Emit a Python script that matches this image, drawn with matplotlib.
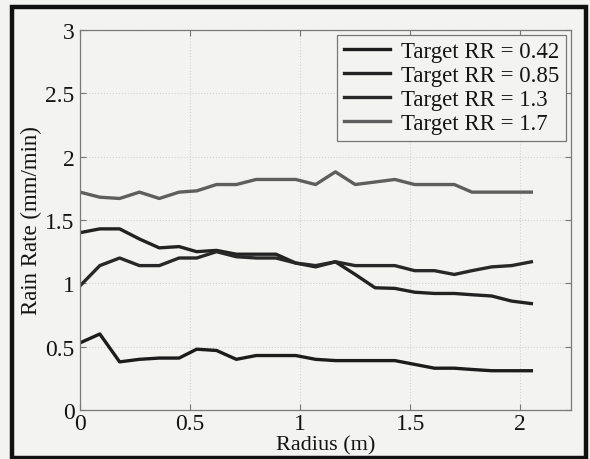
import matplotlib
matplotlib.use("Agg")
import matplotlib.pyplot as plt
from matplotlib.patches import Rectangle

# radius samples (m)
radius = [0.00, 0.09, 0.18, 0.27, 0.36, 0.45, 0.53, 0.62, 0.71, 0.80, 0.89, 0.98,
          1.07, 1.16, 1.25, 1.34, 1.43, 1.52, 1.61, 1.70, 1.78, 1.87, 1.96, 2.05]

rr_042 = [0.53, 0.60, 0.38, 0.40, 0.41, 0.41, 0.48, 0.47, 0.40, 0.43, 0.43, 0.43,
          0.40, 0.39, 0.39, 0.39, 0.39, 0.36, 0.33, 0.33, 0.32, 0.31, 0.31, 0.31]
rr_085 = [1.40, 1.43, 1.43, 1.35, 1.28, 1.29, 1.25, 1.26, 1.23, 1.23, 1.23, 1.16,
          1.13, 1.17, 1.07, 0.965, 0.96, 0.93, 0.92, 0.92, 0.91, 0.90, 0.86, 0.84]
rr_13 = [0.98, 1.14, 1.20, 1.14, 1.14, 1.20, 1.20, 1.25, 1.21, 1.20, 1.20, 1.16,
         1.14, 1.17, 1.14, 1.14, 1.14, 1.10, 1.10, 1.07, 1.10, 1.13, 1.14, 1.17]
rr_17 = [1.72, 1.68, 1.67, 1.72, 1.67, 1.72, 1.73, 1.78, 1.78, 1.82, 1.82, 1.82,
         1.78, 1.88, 1.78, 1.80, 1.82, 1.78, 1.78, 1.78, 1.72, 1.72, 1.72, 1.72]

series = [("Target RR = 0.42", rr_042, "#1c1c1c"),
          ("Target RR = 0.85", rr_085, "#222222"),
          ("Target RR = 1.3", rr_13, "#282828"),
          ("Target RR = 1.7", rr_17, "#5e5e5e")]

plt.rcParams["font.family"] = ["Liberation Serif", "DejaVu Serif"]
paper = "#f3f3f1"
ink = "#141414"

fig = plt.figure(figsize=(5.9, 4.6), dpi=100, facecolor=paper)
ax = fig.add_axes([80 / 590, 1 - 411 / 460, 491 / 590, 380 / 460])
ax.set_facecolor(paper)

for label, vals, col in series:
    ax.plot(radius, vals, color=col, lw=2.4, label=label)

ax.set_xlim(0, 2.23)
ax.set_ylim(0, 3)
ax.set_xticks([0, 0.5, 1, 1.5, 2])
ax.set_xticklabels(["0", "0.5", "1", "1.5", "2"])
ax.set_yticks([0, 0.5, 1, 1.5, 2, 2.5, 3])
ax.set_yticklabels(["0", "0.5", "1", "1.5", "2", "2.5", "3"])
ax.tick_params(direction="in", top=True, right=True, length=4, width=0.8,
               color="#777777", labelsize=17, labelcolor=ink, pad=4)
ax.tick_params(axis="x", pad=2)
ax.grid(True, color="#d2d2d2", ls=":", lw=0.8)
for s in ax.spines.values():
    s.set_color("#7a7a7a")
    s.set_linewidth(0.9)

ax.set_xlabel("Radius (m)", fontsize=16, color=ink)
ax.xaxis.set_label_coords(0.5, -0.066)
ax.set_ylabel("Rain Rate (mm/min)", fontsize=16.5, color=ink, labelpad=2)

leg = ax.legend(loc="upper right", fontsize=16.5, fancybox=False, framealpha=1,
                facecolor=paper, edgecolor="#777777", handlelength=2.0,
                labelspacing=0.12, borderpad=0.3, handletextpad=0.5,
                borderaxespad=0.2)
leg.get_frame().set_linewidth(0.9)
for t in leg.get_texts():
    t.set_color(ink)

# thick black frame around the scanned figure
fig.patches.append(Rectangle((12 / 590, 1 / 460), 574 / 590, 451 / 460,
                             transform=fig.transFigure, fill=False,
                             edgecolor="#111111", lw=3.2))

fig.savefig("out.png", dpi=100, facecolor=paper)
